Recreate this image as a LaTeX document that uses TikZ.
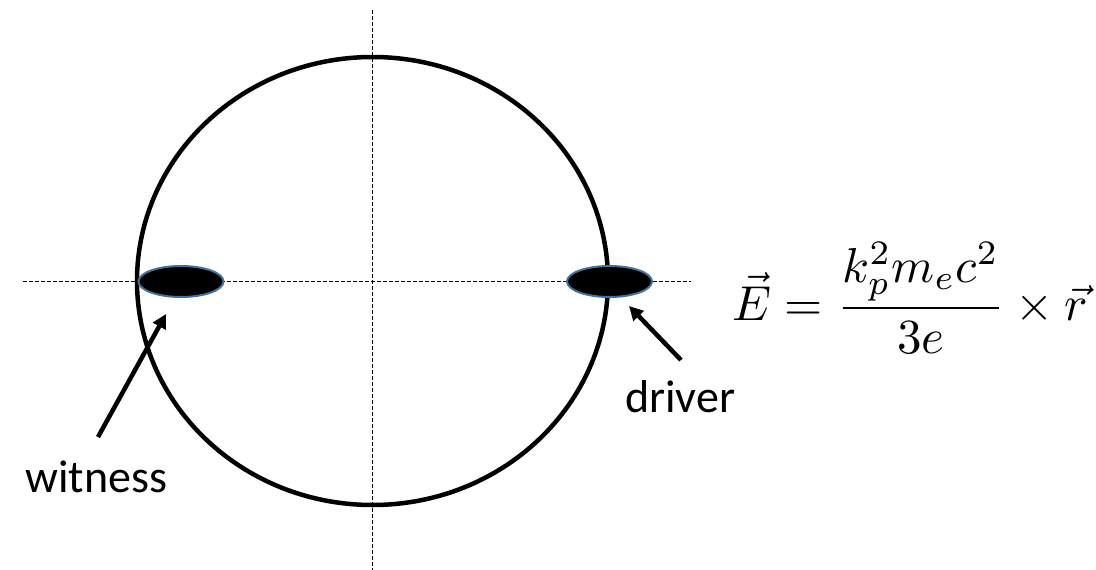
\documentclass[tikz,border=0pt]{standalone}
\usepackage[no-math]{fontspec}
\newfontfamily\labelfont{Carlito}
\usepackage{graphicx}
\usetikzlibrary{arrows.meta,shapes.geometric}
\definecolor{bunchedge}{HTML}{41719C}
\tikzset{
  axisline/.style={line width=1pt, dash pattern=on 4pt off 2pt},
  ring/.style={line width=4.5pt},
  bunch/.style={ellipse, draw=bunchedge, fill=black, line width=2pt, minimum width=85pt, minimum height=31pt, inner sep=0pt},
  pointer/.style={line width=4.5pt, -{Triangle[length=14pt,width=14pt]}},
  lbl/.style={inner sep=0pt, font=\labelfont\fontsize{46}{55}\selectfont}
}
\begin{document}
\begin{tikzpicture}[x=1pt,y=-1pt]
\useasboundingbox (0,0) rectangle (1096,570);
\coordinate (hL) at (23,281.5);
\coordinate (hR) at (691,281.5);
\coordinate (vT) at (372.5,10);
\coordinate (vB) at (372.5,570);
\draw[axisline] (hL) -- (hR);
\draw[axisline] (vT) -- (vB);
\draw[ring] (372.5,281) ellipse [x radius=235.5, y radius=224];
\node[bunch] (witnessbunch) at (181,281.5) {};
\node[bunch] (driverbunch) at (609.5,281.5) {};
\node[lbl, anchor=base west] (witness) at (25,492) {witness};
\node[lbl, anchor=base west] (driver) at (625,412) {driver};
\coordinate (wstart) at (98,437);
\coordinate (wtip) at (166,314);
\coordinate (dstart) at (681,360);
\coordinate (dtip) at (629,306);
\draw[pointer] (wstart) -- (wtip);
\draw[pointer] (dstart) -- (dtip);
\node[inner sep=0pt, anchor=west] (eq) at (732,298) {\resizebox{356pt}{!}{$\displaystyle \vec{E} = \frac{k_p^2 m_e c^2}{3e}\times \vec{r}$}};
\end{tikzpicture}
\end{document}
